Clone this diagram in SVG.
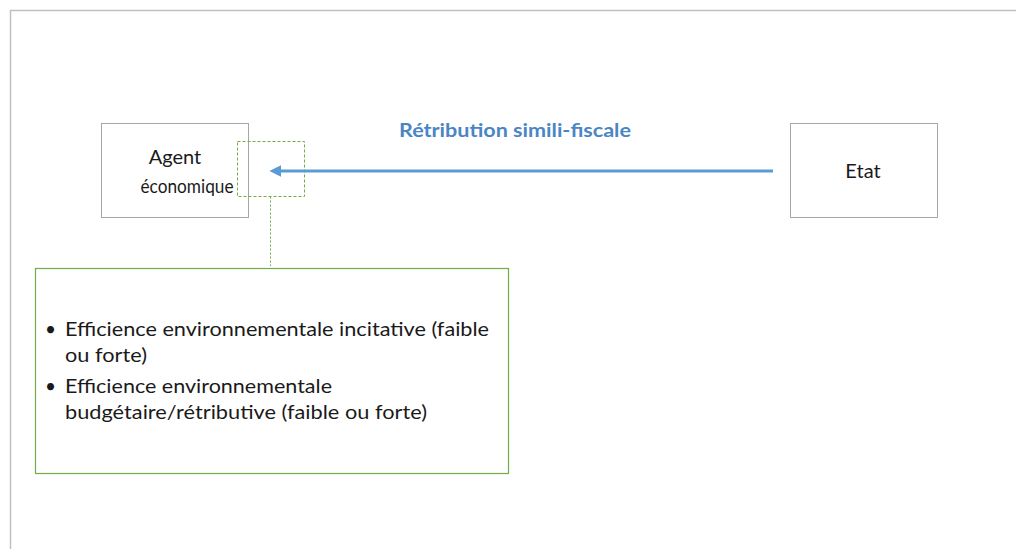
<svg xmlns="http://www.w3.org/2000/svg" width="1016" height="549" viewBox="0 0 1016 549">
<defs>
<style>
.box{fill:#fff;stroke:#a6a6a6;stroke-width:1}
.t{font-family:Lato,"Liberation Sans",sans-serif;fill:#1a1a1a}
.lbl{font-family:Lato,"Liberation Sans",sans-serif;font-weight:bold;fill:#4a86c5}
</style>
<marker id="ah" viewBox="0 0 10 10" refX="2" refY="5" markerWidth="4" markerHeight="4" orient="auto-start-reverse" markerUnits="strokeWidth">
<path d="M0,0 L10,5 L0,10 z" fill="#5b9bd5"/>
</marker>
</defs>
<rect width="1016" height="549" fill="#fff"/>
<path d="M10.5,549 V10.5 H1016" fill="none" stroke="#c0c0c0" stroke-width="1.5"/>
<g id="agent">
<rect class="box" x="101.5" y="123.5" width="147" height="94"/>
<text class="t" x="175" y="164" font-size="20" text-anchor="middle">Agent</text>
<text class="t" x="187" y="193" font-size="20" text-anchor="middle" textLength="93" lengthAdjust="spacingAndGlyphs">économique</text>
</g>
<g id="etat">
<rect class="box" x="790.5" y="123.5" width="147" height="94"/>
<text class="t" x="863" y="178" font-size="20" text-anchor="middle">Etat</text>
</g>
<g id="focus">
<rect x="237.5" y="141.5" width="67" height="55" fill="none" stroke="#70ad47" stroke-width="1" stroke-dasharray="3,2"/>
</g>
<g id="callout">
<rect x="35.5" y="268.5" width="473" height="205" fill="#fff" stroke="#70ad47" stroke-width="1.2"/>
<text class="t" font-size="19">
<tspan x="45" y="336">•</tspan>
<tspan x="65" y="336" textLength="424" lengthAdjust="spacingAndGlyphs">Efficience environnementale incitative (faible</tspan>
<tspan x="65" y="362" textLength="82" lengthAdjust="spacingAndGlyphs">ou forte)</tspan>
<tspan x="45" y="393">•</tspan>
<tspan x="65" y="393" textLength="267" lengthAdjust="spacingAndGlyphs">Efficience environnementale</tspan>
<tspan x="65" y="419" textLength="362" lengthAdjust="spacingAndGlyphs">budgétaire/rétributive (faible ou forte)</tspan>
</text>
</g>
<g id="connectors">
<path d="M773,171 H279" fill="none" stroke="#5b9bd5" stroke-width="3" marker-end="url(#ah)"/>
<path d="M270.5,196.5 V266" fill="none" stroke="#70ad47" stroke-width="1" stroke-dasharray="2,2"/>
<text class="lbl" x="515" y="137" font-size="18" text-anchor="middle" textLength="232" lengthAdjust="spacingAndGlyphs">Rétribution simili-fiscale</text>
</g>
</svg>
